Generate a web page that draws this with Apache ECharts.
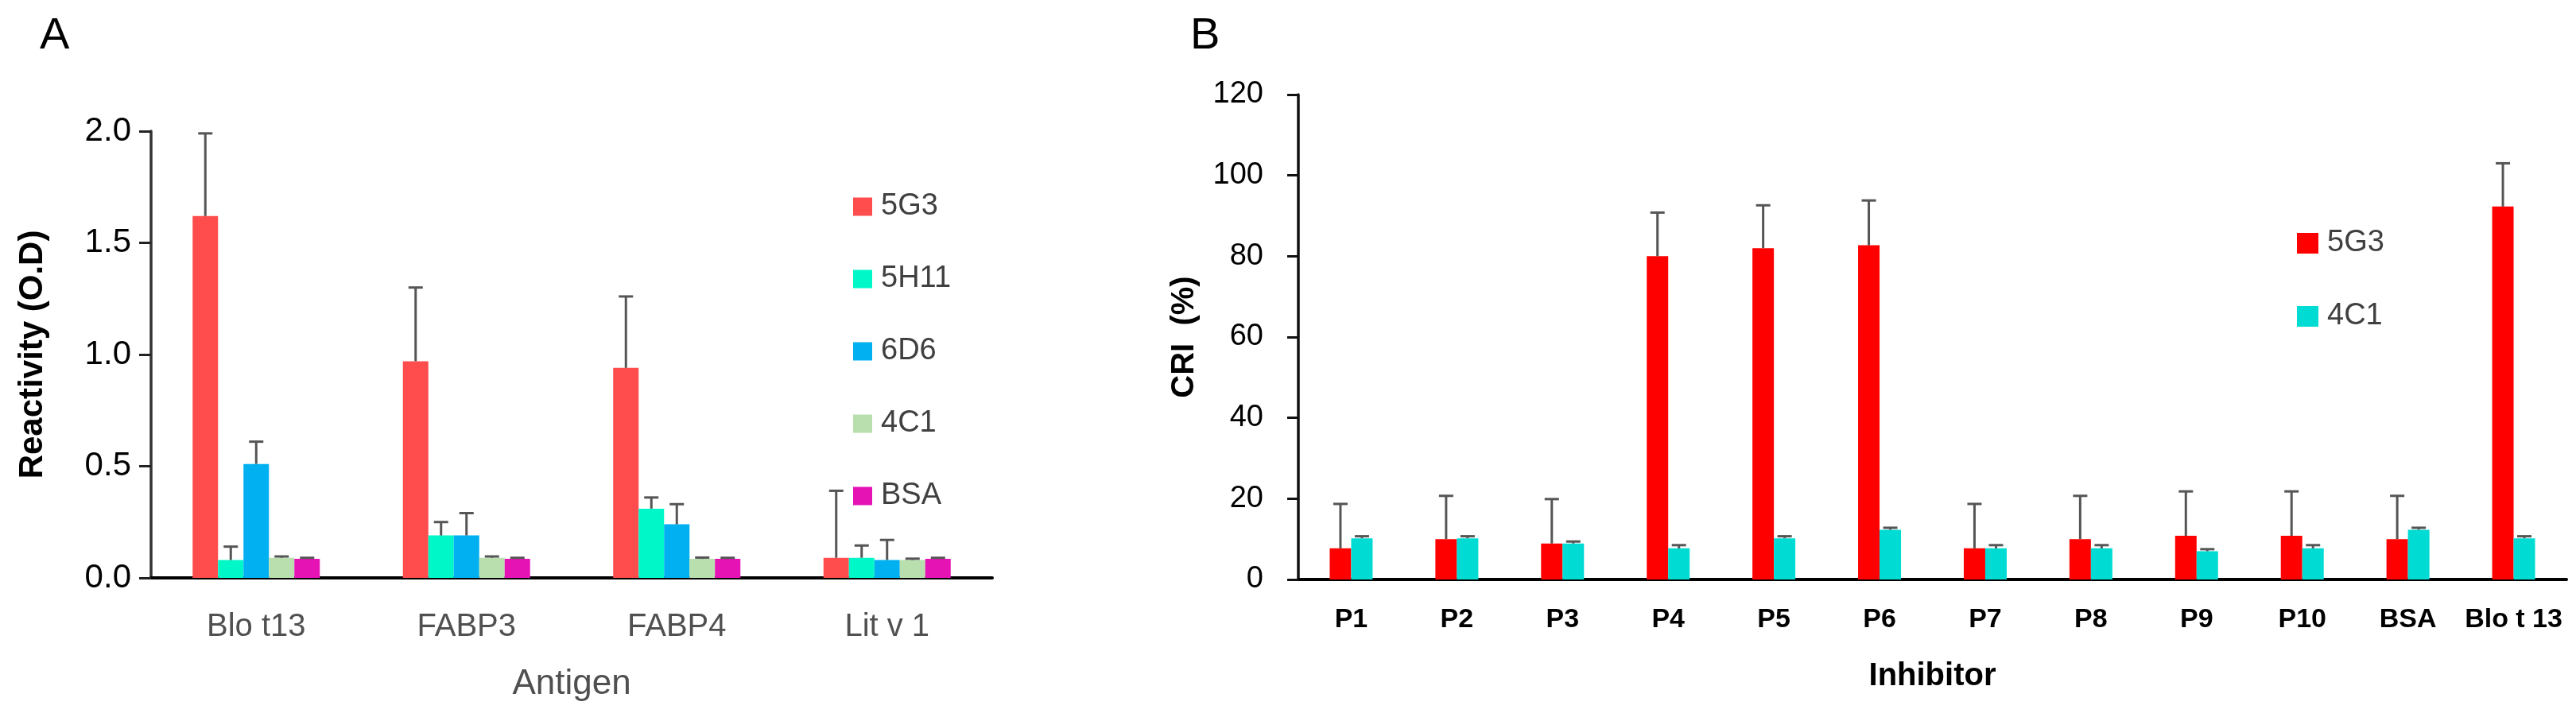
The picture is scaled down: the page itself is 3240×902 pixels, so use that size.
<!DOCTYPE html>
<html>
<head>
<meta charset="utf-8">
<title>Reactivity and CRI</title>
<script src="https://cdn.jsdelivr.net/npm/echarts@6/dist/echarts.min.js"></script>
<style>
  html, body { margin: 0; padding: 0; background: #fff; }
  #main { width: 3240px; height: 902px; }
</style>
</head>
<body>
<div id="main"></div>
<script>
// panel A - antigen reactivity (O.D), mean and upper SD
var antigens = ['Blo t13', 'FABP3', 'FABP4', 'Lit v 1'];
var mabNames = ['5G3', '5H11', '6D6', '4C1', 'BSA'];
var mabColors = ['#FF4C4C', '#00F8C8', '#00B0F0', '#B9DFAE', '#E512B4'];
var od5G3 = [1.62, 0.97, 0.94, 0.09];
var od5H11 = [0.08, 0.19, 0.31, 0.09];
var od6D6 = [0.51, 0.19, 0.24, 0.08];
var od4C1 = [0.09, 0.09, 0.085, 0.08];
var odBSA = [0.085, 0.085, 0.085, 0.085];
var sd5G3 = [0.37, 0.33, 0.32, 0.30];
var sd5H11 = [0.06, 0.06, 0.05, 0.055];
var sd6D6 = [0.10, 0.10, 0.09, 0.09];
var sd4C1 = [0.006, 0.006, 0.006, 0.006];
var sdBSA = [0.005, 0.005, 0.005, 0.005];
var odTicks = [0, 0.5, 1.0, 1.5, 2.0];

// panel B - CRI (%) per inhibitor
var inhibitors = ['P1', 'P2', 'P3', 'P4', 'P5', 'P6', 'P7', 'P8', 'P9', 'P10', 'BSA', 'Blo t 13'];
var cri5G3 = [7.7, 10, 8.9, 80, 82, 82.7, 7.7, 10, 10.8, 10.8, 10, 92.3];
var criSd5G3 = [11, 10.7, 11, 10.8, 10.6, 11.1, 11, 10.7, 11, 11, 10.7, 10.7];
var cri4C1 = [10.2, 10.2, 8.9, 7.7, 10.2, 12.3, 7.7, 7.7, 7.0, 7.7, 12.3, 10.2];
var criSd4C1 = [0.5, 0.5, 0.5, 0.8, 0.5, 0.5, 0.8, 0.8, 0.5, 0.8, 0.5, 0.5];
var criTicks = [0, 20, 40, 60, 80, 100, 120];

var myChart = echarts.init(document.getElementById('main'), null, { renderer: 'canvas' });

var BAR_A = 32;
var BAR_B = 27;

// upper error bar drawn on top of a bar, shifted to that bar's slot
function errSeries(means, sds, offset, axisIdx) {
    var data = means.map(function (m, i) { return [i, m, m + sds[i]]; });
    return {
        type: 'custom',
        xAxisIndex: axisIdx,
        yAxisIndex: axisIdx,
        silent: true,
        z: 5,
        data: data,
        encode: { x: 0, y: [1, 2] },
        renderItem: function (params, api) {
            var p0 = api.coord([api.value(0), api.value(1)]);
            var p1 = api.coord([api.value(0), api.value(2)]);
            var x = p0[0] + offset;
            var st = { stroke: '#555', lineWidth: 3 };
            return {
                type: 'group',
                children: [
                    { type: 'line', shape: { x1: x, y1: p0[1], x2: x, y2: p1[1] }, style: st },
                    { type: 'line', shape: { x1: x - 9, y1: p1[1], x2: x + 9, y2: p1[1] }, style: st }
                ]
            };
        }
    };
}

function barSeries(name, values, color, width, axisIdx) {
    return {
        name: name,
        type: 'bar',
        xAxisIndex: axisIdx,
        yAxisIndex: axisIdx,
        barWidth: width,
        barGap: '0%',
        itemStyle: { color: color },
        data: values
    };
}

var odValues = [od5G3, od5H11, od6D6, od4C1, odBSA];
var odSds = [sd5G3, sd5H11, sd6D6, sd4C1, sdBSA];
var series = [];
for (var i = 0; i < mabNames.length; i++) {
    series.push(barSeries(mabNames[i], odValues[i], mabColors[i], BAR_A, 0));
}
for (var i = 0; i < mabNames.length; i++) {
    series.push(errSeries(odValues[i], odSds[i], (i - 2) * BAR_A, 0));
}
series.push(barSeries('5G3', cri5G3, '#FF0000', BAR_B, 1));
series.push(barSeries('4C1', cri4C1, '#00DCD4', BAR_B, 1));
series.push(errSeries(cri5G3, criSd5G3, -BAR_B / 2, 1));
series.push(errSeries(cri4C1, criSd4C1, BAR_B / 2, 1));

var option = {
    backgroundColor: '#fff',
    animation: false,
    graphic: [
        { type: 'text', left: 50, top: 18, style: { text: 'A', font: '56px "Liberation Sans Narrow", "Liberation Sans"', fill: '#000' } },
        { type: 'text', left: 1497, top: 18, style: { text: 'B', font: '56px "Liberation Sans Narrow", "Liberation Sans"', fill: '#000' } }
    ],
    grid: [
        { left: 190, right: 1992, top: 165, bottom: 175 },
        { left: 1633, right: 12, top: 119, bottom: 173 }
    ],
    legend: [
        {
            orient: 'vertical',
            left: 1068,
            top: 236,
            icon: 'rect',
            itemWidth: 24,
            itemHeight: 23,
            itemGap: 53,
            selectedMode: false,
            textStyle: { fontFamily: 'Liberation Sans', fontSize: 38, color: '#404040', lineHeight: 24, padding: [0, 0, 0, 6] },
            data: mabNames.map(function (n, i) { return { name: n, itemStyle: { color: mabColors[i] } }; })
        },
        {
            orient: 'vertical',
            left: 2884,
            top: 282,
            icon: 'rect',
            itemWidth: 27,
            itemHeight: 26,
            itemGap: 54,
            selectedMode: false,
            textStyle: { fontFamily: 'Liberation Sans', fontSize: 38, color: '#404040', lineHeight: 26, padding: [0, 0, 0, 6] },
            data: [
                { name: '5G3', itemStyle: { color: '#FF0000' } },
                { name: '4C1', itemStyle: { color: '#00DCD4' } }
            ]
        }
    ],
    xAxis: [
        {
            type: 'category',
            gridIndex: 0,
            data: antigens,
            name: 'Antigen',
            nameLocation: 'middle',
            nameGap: 112,
            nameTextStyle: { fontFamily: 'Liberation Sans', fontSize: 44, color: '#505050' },
            axisLine: { lineStyle: { color: '#000', width: 4 } },
            axisTick: { show: false },
            axisLabel: { fontFamily: 'Liberation Sans', fontSize: 40, color: '#505050', margin: 42 }
        },
        {
            type: 'category',
            gridIndex: 1,
            data: inhibitors,
            name: 'Inhibitor',
            nameLocation: 'middle',
            nameGap: 102,
            nameTextStyle: { fontFamily: 'Liberation Sans', fontSize: 40, fontWeight: 'bold', color: '#000' },
            axisLine: { lineStyle: { color: '#000', width: 4 } },
            axisTick: { show: false },
            axisLabel: { fontFamily: 'Liberation Sans', fontSize: 34, fontWeight: 'bold', color: '#000', margin: 34, interval: 0 }
        }
    ],
    yAxis: [
        {
            type: 'value',
            gridIndex: 0,
            min: odTicks[0],
            max: odTicks[odTicks.length - 1],
            interval: 0.5,
            name: 'Reactivity (O.D)',
            nameLocation: 'middle',
            nameGap: 128,
            nameTextStyle: { fontFamily: 'Liberation Sans', fontSize: 42, fontWeight: 'bold', color: '#000' },
            axisLine: { show: true, lineStyle: { color: '#333', width: 3.5 } },
            axisTick: { show: true, length: 15, lineStyle: { color: '#222', width: 3 } },
            splitLine: { show: false },
            axisLabel: {
                fontFamily: 'Liberation Sans Narrow, Liberation Sans',
                fontSize: 42,
                color: '#000',
                margin: 25,
                formatter: function (v) { return v.toFixed(1); }
            }
        },
        {
            type: 'value',
            gridIndex: 1,
            min: criTicks[0],
            max: criTicks[criTicks.length - 1],
            interval: 20,
            name: 'CRI  (%)',
            nameLocation: 'middle',
            nameGap: 123,
            nameTextStyle: { fontFamily: 'Liberation Sans', fontSize: 40, fontWeight: 'bold', color: '#000' },
            axisLine: { show: true, lineStyle: { color: '#111', width: 3.5 } },
            axisTick: { show: true, length: 14, lineStyle: { color: '#111', width: 3 } },
            splitLine: { show: false },
            axisLabel: { fontFamily: 'Liberation Sans', fontSize: 38, color: '#000', margin: 44 }
        }
    ],
    series: series
};

myChart.setOption(option);
</script>
</body>
</html>
